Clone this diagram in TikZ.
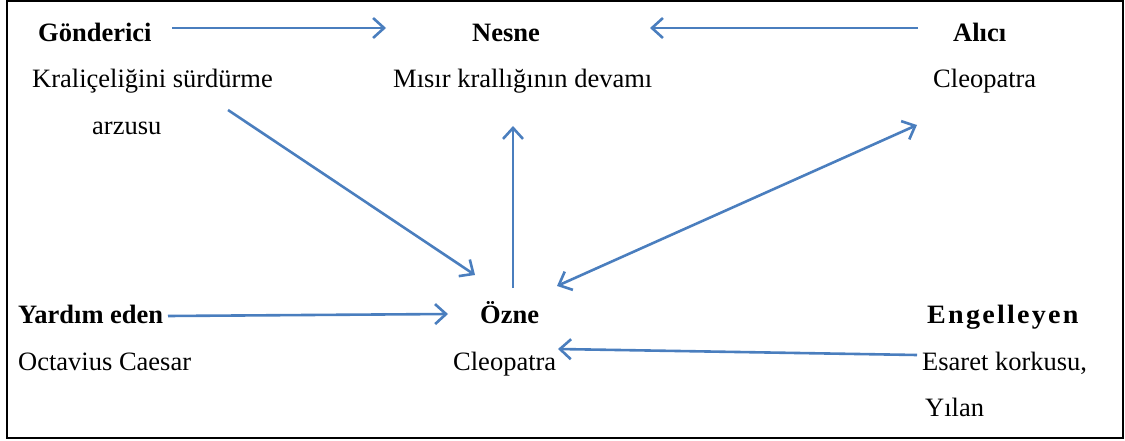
\documentclass[tikz,border=0pt]{standalone}
\usepackage{fontspec}
\setmainfont{Liberation Serif}
\usetikzlibrary{arrows.meta}
\definecolor{linkblue}{RGB}{74,126,190}
\begin{document}
\begin{tikzpicture}[x=1pt,y=-1pt,
  txt/.style={anchor=base west,inner sep=0pt,font=\fontsize{26.5}{30}\selectfont},
  head/.style={txt,font=\fontsize{26.5}{30}\selectfont\bfseries},
  link/.style={draw=linkblue,line width=2.6pt,-{Straight Barb[length=11pt,width=20pt,line width=2.6pt]}},
  both/.style={link,{Straight Barb[length=11pt,width=20pt,line width=2.6pt]}-{Straight Barb[length=11pt,width=20pt,line width=2.6pt]}}]
\useasboundingbox (0,0) rectangle (1125,441);
\draw[line width=2.2pt] (7,1) rectangle (1123,438);

% actant labels
\node[head] (send) at (38,42) {Gönderici};
\node[txt] (sendA) at (32,88) {Kraliçeliğini sürdürme};
\node[txt] (sendB) at (92,135) {arzusu};
\node[head] (obj) at (472,42) {Nesne};
\node[txt] (objA) at (393,88) {Mısır krallığının devamı};
\node[head] (recv) at (953,42) {Alıcı};
\node[txt] (recvA) at (933,88) {Cleopatra};
\node[head] (help) at (18,323) {Yardım eden};
\node[txt] (helpA) at (18,370) {Octavius Caesar};
\node[head] (subj) at (480,323) {Özne};
\node[txt] (subjA) at (453,370) {Cleopatra};
\node[head] (opp) at (927,323) {\addfontfeatures{LetterSpace=8}\scalebox{1.06}[1]{Engelleyen}};
\node[txt] (oppA) at (922,370) {Esaret korkusu,};
\node[txt] (oppB) at (925,416) {Yılan};

% arrow end points
\coordinate (a1s) at (172,28);  \coordinate (a1e) at (386,28);
\coordinate (a2s) at (918,28);  \coordinate (a2e) at (650,28);
\coordinate (a3s) at (228,110); \coordinate (a3e) at (475,275);
\coordinate (a4s) at (513,288); \coordinate (a4e) at (513,126);
\coordinate (a5s) at (557,286); \coordinate (a5e) at (917,125);
\coordinate (a6s) at (168,316); \coordinate (a6e) at (448,314);
\coordinate (a7s) at (917,355); \coordinate (a7e) at (558,349);

\draw[link] (a1s) -- (a1e);
\draw[link] (a2s) -- (a2e);
\draw[link] (a3s) -- (a3e);
\draw[link] (a4s) -- (a4e);
\draw[both] (a5s) -- (a5e);
\draw[link] (a6s) -- (a6e);
\draw[link] (a7s) -- (a7e);
\end{tikzpicture}
\end{document}
